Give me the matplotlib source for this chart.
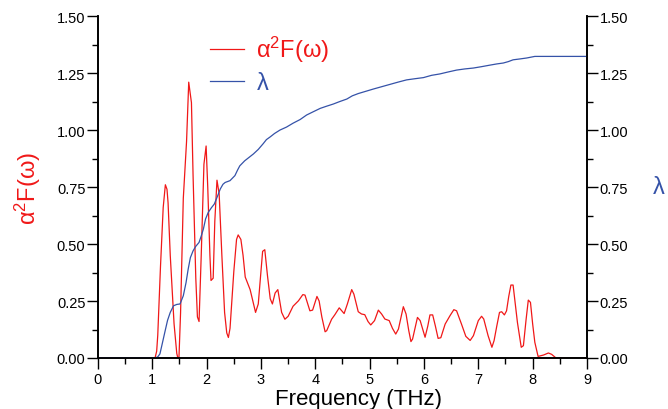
import matplotlib
matplotlib.use('Agg')
import matplotlib.pyplot as plt
from matplotlib.ticker import MultipleLocator

plt.rcParams['font.family'] = ['Liberation Sans', 'DejaVu Sans']

# alpha^2 F(omega) spectral function
freq_a2f = [0, 1.0, 1.05, 1.08, 1.10, 1.15, 1.20, 1.24, 1.27, 1.29, 1.33, 1.40, 1.45, 1.47,
            1.49, 1.52, 1.57, 1.63, 1.67, 1.72, 1.75, 1.80, 1.83, 1.86, 1.90, 1.95, 1.99,
            2.02, 2.06, 2.08, 2.12, 2.15, 2.19, 2.23, 2.28, 2.33, 2.37, 2.40, 2.43, 2.50,
            2.55, 2.58, 2.63, 2.67, 2.71, 2.80, 2.86, 2.90, 2.95, 3.00, 3.03, 3.07, 3.12,
            3.17, 3.21, 3.26, 3.31, 3.38, 3.44, 3.50, 3.59, 3.69, 3.77, 3.81, 3.90, 3.95,
            4.03, 4.07, 4.12, 4.18, 4.21, 4.30, 4.36, 4.44, 4.53, 4.59, 4.67, 4.71, 4.79,
            4.85, 4.91, 4.97, 5.02, 5.09, 5.16, 5.22, 5.28, 5.36, 5.42, 5.48, 5.53, 5.62,
            5.67, 5.72, 5.76, 5.79, 5.88, 5.93, 6.02, 6.07, 6.11, 6.16, 6.21, 6.26, 6.31,
            6.39, 6.48, 6.55, 6.60, 6.69, 6.77, 6.85, 6.91, 7.00, 7.06, 7.10, 7.18, 7.25,
            7.29, 7.34, 7.39, 7.43, 7.48, 7.52, 7.56, 7.60, 7.64, 7.68, 7.72, 7.79, 7.83,
            7.88, 7.92, 7.96, 8.00, 8.04, 8.10, 8.20, 8.29, 8.35, 8.43, 9.0]
a2f = [0, 0, 0, 0.03, 0.10, 0.40, 0.66, 0.76, 0.74, 0.68, 0.45, 0.15, 0.02, 0,
       0, 0.20, 0.70, 0.95, 1.21, 1.12, 0.80, 0.35, 0.18, 0.16, 0.45, 0.85, 0.93,
       0.75, 0.45, 0.34, 0.35, 0.60, 0.78, 0.72, 0.45, 0.20, 0.11, 0.09, 0.13, 0.38,
       0.52, 0.54, 0.52, 0.45, 0.355, 0.30, 0.24, 0.20, 0.237, 0.38, 0.468, 0.475, 0.36,
       0.26, 0.237, 0.285, 0.30, 0.20, 0.17, 0.183, 0.227, 0.251, 0.278, 0.276, 0.207, 0.21,
       0.27, 0.25, 0.18, 0.115, 0.12, 0.17, 0.19, 0.22, 0.195, 0.237, 0.30, 0.28, 0.203,
       0.193, 0.19, 0.16, 0.145, 0.164, 0.21, 0.193, 0.171, 0.164, 0.13, 0.105, 0.127, 0.225,
       0.193, 0.12, 0.072, 0.083, 0.178, 0.164, 0.091, 0.14, 0.189, 0.189, 0.14, 0.086, 0.089,
       0.149, 0.186, 0.212, 0.207, 0.149, 0.095, 0.077, 0.098, 0.164, 0.183, 0.171, 0.098, 0.047,
       0.076, 0.14, 0.20, 0.203, 0.189, 0.207, 0.27, 0.32, 0.32, 0.24, 0.156, 0.047, 0.054,
       0.17, 0.254, 0.244, 0.15, 0.069, 0.007, 0.013, 0.022, 0.016, 0, 0]

# cumulative coupling constant lambda
freq_lam = [0, 1.05, 1.10, 1.14, 1.18, 1.23, 1.28, 1.33, 1.39, 1.45, 1.51, 1.57, 1.62, 1.66,
            1.70, 1.75, 1.80, 1.86, 1.90, 1.94, 1.98, 2.03, 2.09, 2.14, 2.20, 2.25, 2.30,
            2.34, 2.43, 2.52, 2.57, 2.61, 2.70, 2.78, 2.86, 2.95, 3.04, 3.10, 3.17, 3.25,
            3.35, 3.47, 3.59, 3.72, 3.84, 3.96, 4.09, 4.20, 4.33, 4.45, 4.58, 4.68, 4.79,
            4.93, 5.07, 5.22, 5.37, 5.52, 5.68, 5.83, 5.99, 6.14, 6.29, 6.45, 6.60, 6.75,
            6.91, 7.06, 7.22, 7.34, 7.46, 7.55, 7.64, 7.77, 7.89, 8.04, 9.0]
lam = [0, 0, 0.005, 0.018, 0.06, 0.113, 0.165, 0.20, 0.229, 0.235, 0.237, 0.273, 0.33, 0.39,
       0.44, 0.47, 0.49, 0.507, 0.535, 0.566, 0.61, 0.639, 0.66, 0.675, 0.71, 0.741, 0.762,
       0.77, 0.778, 0.80, 0.825, 0.843, 0.865, 0.88, 0.895, 0.915, 0.94, 0.958, 0.97, 0.985,
       1.0, 1.013, 1.03, 1.046, 1.066, 1.08, 1.095, 1.104, 1.114, 1.125, 1.136, 1.15, 1.16,
       1.17, 1.18, 1.19, 1.20, 1.21, 1.22, 1.225, 1.23, 1.24, 1.246, 1.255, 1.263, 1.268,
       1.272, 1.278, 1.285, 1.29, 1.294, 1.30, 1.308, 1.312, 1.316, 1.323, 1.323]

red = '#f01818'
blue = '#3552a8'

fig = plt.figure(figsize=(6.68, 4.10), dpi=100)
ax = fig.add_axes([0.1467, 0.1244, 0.732, 0.834])
ax2 = ax.twinx()

l1, = ax.plot(freq_a2f, a2f, color=red, lw=0.9, label=r'$\mathregular{\alpha^2F(\omega)}$')
l2, = ax2.plot(freq_lam, lam, color=blue, lw=0.9, label=r'$\mathregular{\lambda}$')

for a in (ax, ax2):
    a.set_xlim(0, 9)
    a.set_ylim(0, 1.5)
    a.yaxis.set_major_locator(MultipleLocator(0.25))
    a.yaxis.set_minor_locator(MultipleLocator(0.125))
    a.spines['top'].set_visible(False)
    for s in a.spines.values():
        s.set_linewidth(1.2)
    a.tick_params(which='major', length=8, width=1.0, labelsize=10.5, pad=1)
    a.tick_params(which='minor', length=4, width=1.0)

ax.xaxis.set_major_locator(MultipleLocator(1))
ax.xaxis.set_minor_locator(MultipleLocator(0.5))
ax.yaxis.set_major_formatter('{x:.2f}')
ax2.yaxis.set_major_formatter('{x:.2f}')
ax.tick_params(axis='x', pad=2)

ax.set_xlabel('Frequency (THz)', fontsize=16)
ax.xaxis.set_label_coords(0.533, -0.088)
ax.xaxis.label.set_va('top')
ax.set_ylabel(r'$\mathregular{\alpha^2F(\omega)}$', fontsize=17, color=red, labelpad=10)
ax2.set_ylabel(r'$\mathregular{\lambda}$', fontsize=17, color=blue, rotation=0,
               labelpad=22, va='center')

leg = ax.legend(handles=[l1, l2], loc='upper left', bbox_to_anchor=(0.186, 1.01),
                frameon=False, fontsize=17, handlelength=1.45, handletextpad=0.5,
                labelspacing=0.35)
leg.get_texts()[0].set_color(red)
leg.get_texts()[1].set_color(blue)

fig.savefig('out.png', dpi=100)
